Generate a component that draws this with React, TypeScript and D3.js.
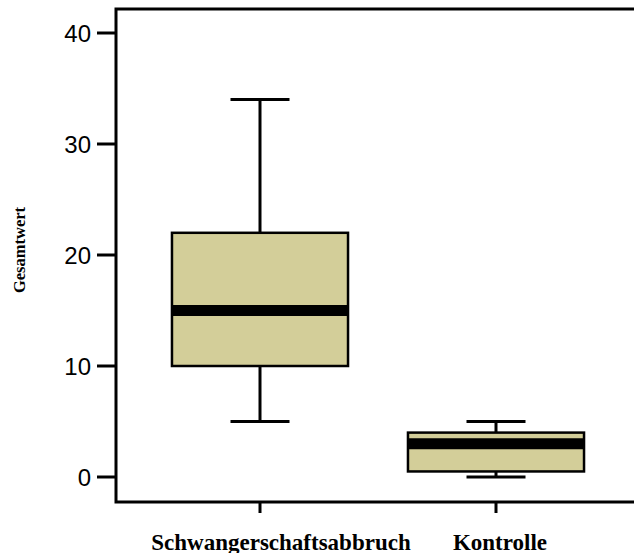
import React from "react";
import * as d3 from "d3";

const categories = ["Schwangerschaftsabbruch", "Kontrolle"];
const whiskerLow = [5, 0];
const q1 = [10, 0.5];
const median = [15, 3];
const q3 = [22, 4];
const whiskerHigh = [34, 5];
const yTicks = [0, 10, 20, 30, 40];

export default function App() {
  const W = 634, H = 553;
  const left = 116, top = 9, bottom = 502;
  const y = d3.scaleLinear().domain([0, 40]).range([477, 33]);
  const x = d3.scaleBand<string>().domain(categories).range([142, 614]);
  const bw = x.bandwidth();
  const boxW = bw * 0.746;
  const capW = bw * 0.25;
  const fill = "#D3CE99";
  return (
    <svg width={W} height={H} style={{ position: "absolute", left: 0, top: 0 }}>
      <rect width={W} height={H} fill="#fff" />
      {categories.map((c, i) => {
        const cx = x(c)! + bw / 2;
        return (
          <g key={c}>
            <line x1={cx} x2={cx} y1={y(whiskerHigh[i])} y2={y(q3[i])} stroke="#000" strokeWidth={3} />
            <line x1={cx} x2={cx} y1={y(q1[i])} y2={y(whiskerLow[i])} stroke="#000" strokeWidth={3} />
            <line x1={cx - capW / 2} x2={cx + capW / 2} y1={y(whiskerHigh[i])} y2={y(whiskerHigh[i])} stroke="#000" strokeWidth={3} />
            <line x1={cx - capW / 2} x2={cx + capW / 2} y1={y(whiskerLow[i])} y2={y(whiskerLow[i])} stroke="#000" strokeWidth={3} />
            <rect x={cx - boxW / 2} y={y(q3[i])} width={boxW} height={y(q1[i]) - y(q3[i])} fill={fill} stroke="#000" strokeWidth={2.5} />
            <line x1={cx - boxW / 2} x2={cx + boxW / 2} y1={y(median[i])} y2={y(median[i])} stroke="#000" strokeWidth={11} />
            <line x1={cx} x2={cx} y1={bottom} y2={bottom + 11} stroke="#000" strokeWidth={3} />
          </g>
        );
      })}
      <text x={281} y={550} textAnchor="middle" fontFamily="Liberation Serif, Times New Roman, serif" fontWeight="bold" fontSize={23}>{categories[0]}</text>
      <text x={500} y={550} textAnchor="middle" fontFamily="Liberation Serif, Times New Roman, serif" fontWeight="bold" fontSize={23}>{categories[1]}</text>
      <path d={`M${W + 5},${top} H${left} V${bottom} H${W + 5}`} fill="none" stroke="#000" strokeWidth={3} />
      {yTicks.map((t) => (
        <g key={t}>
          <line x1={97} x2={left} y1={y(t)} y2={y(t)} stroke="#000" strokeWidth={3} />
          <text x={91} y={y(t)} dy="0.36em" textAnchor="end" fontFamily="Liberation Sans, Arial, sans-serif" fontSize={24}>{t}</text>
        </g>
      ))}
      <text transform={`translate(25,250) rotate(-90)`} textAnchor="middle" fontFamily="Liberation Serif, Times New Roman, serif" fontWeight="bold" fontSize={16.5}>Gesamtwert</text>
    </svg>
  );
}
